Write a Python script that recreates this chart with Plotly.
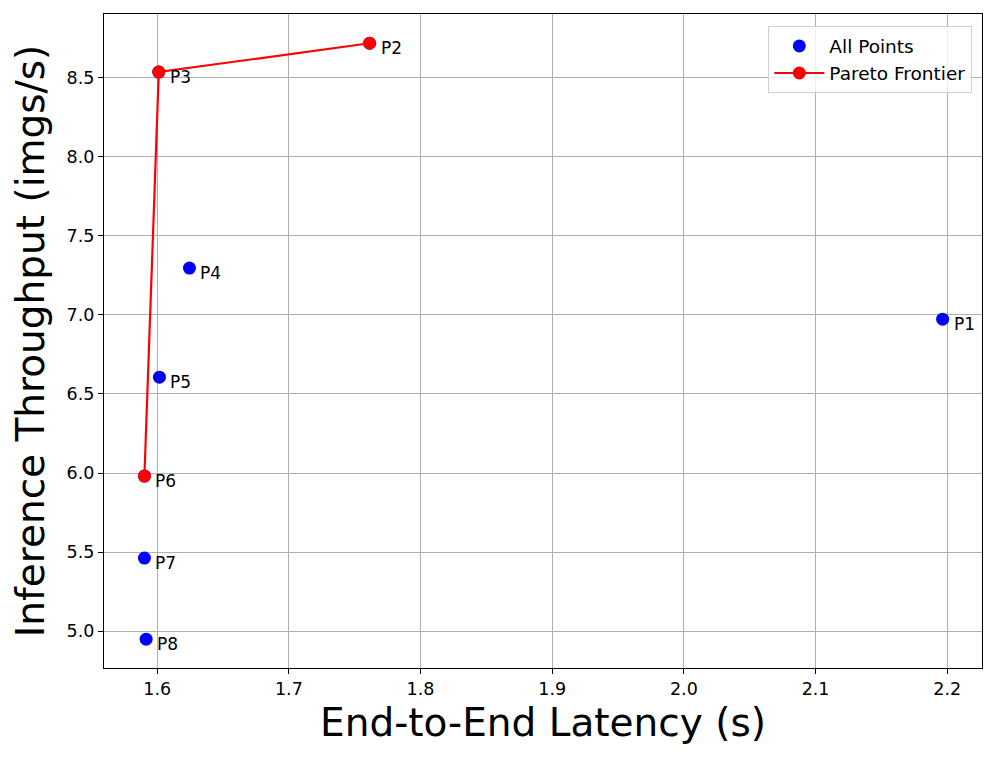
import plotly.graph_objects as go

# Data
labels = ['P1', 'P2', 'P3', 'P4', 'P5', 'P6', 'P7', 'P8']
latency = [2.1965, 1.7613, 1.6012, 1.6245, 1.6017, 1.5903, 1.5903, 1.5916]
throughput = [6.973, 8.718, 8.536, 7.296, 6.606, 5.981, 5.462, 4.949]

pareto_labels = ['P2', 'P3', 'P6']
pareto_latency = [1.7613, 1.6012, 1.5903]
pareto_throughput = [8.718, 8.536, 5.981]

FONT = 'DejaVu Sans'

fig = go.Figure()

fig.add_trace(go.Scatter(
    x=latency,
    y=throughput,
    mode='markers',
    name='All Points',
    marker=dict(color='blue', size=13),
))

fig.add_trace(go.Scatter(
    x=pareto_latency,
    y=pareto_throughput,
    mode='lines+markers',
    name='Pareto Frontier',
    line=dict(color='red', width=2.2),
    marker=dict(color='red', size=13),
))

# point labels, offset to the lower right like matplotlib annotate
for lab, x, y in zip(labels, latency, throughput):
    fig.add_annotation(
        x=x, y=y, text=lab, showarrow=False,
        xanchor='left', yanchor='middle',
        xshift=9, yshift=-5,
        font=dict(family=FONT, size=17, color='black'),
    )

axis_common = dict(
    showline=True, linecolor='black', linewidth=1.3, mirror=True,
    ticks='outside', ticklen=5, tickcolor='black', tickwidth=1,
    showgrid=True, gridcolor='#b0b0b0', gridwidth=1,
    zeroline=False,
    tickfont=dict(family=FONT, size=17.5, color='black'),
)

# the page puts the plot 8px in from the top-left, so margins are trimmed
fig.update_layout(
    width=989,
    height=753,
    template='plotly_white',
    plot_bgcolor='white',
    paper_bgcolor='white',
    margin=dict(l=96, r=15, t=6, b=93),
    font=dict(family=FONT, color='black'),
    xaxis=dict(
        range=[1.5596, 2.2264], dtick=0.1, tickformat='.1f',
        title=dict(text='End-to-End Latency (s)', font=dict(family=FONT, size=39), standoff=10),
        **axis_common,
    ),
    yaxis=dict(
        range=[4.767, 8.903], dtick=0.5, tickformat='.1f',
        title=dict(text='Inference Throughput (imgs/s)', font=dict(family=FONT, size=39), standoff=10),
        **axis_common,
    ),
    legend=dict(
        x=0.989, y=0.981, xanchor='right', yanchor='top',
        bgcolor='rgba(255,255,255,0.8)', bordercolor='#d0d0d0', borderwidth=1,
        font=dict(family=FONT, size=18.5),
        itemwidth=50, tracegroupgap=0,
    ),
    showlegend=True,
)

fig.write_html("out.html")
